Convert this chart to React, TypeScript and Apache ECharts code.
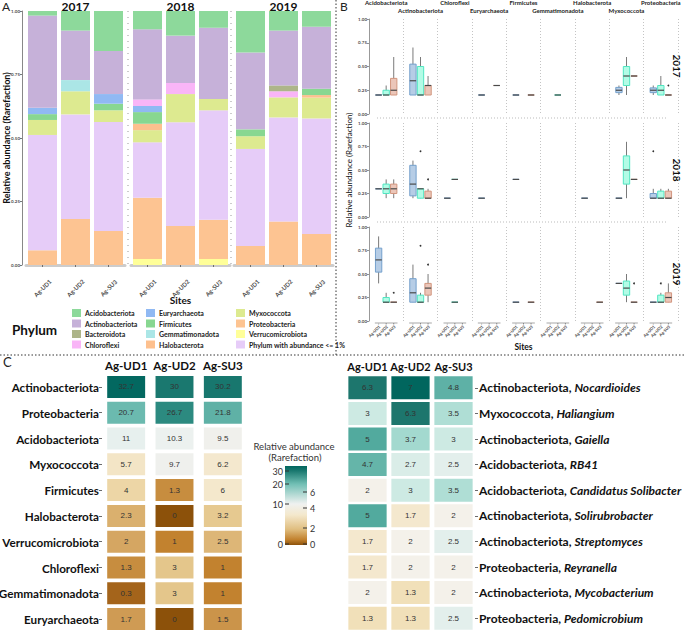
import React, { useEffect, useRef } from 'react';
import * as echarts from 'echarts';

// ---------------- DATA ----------------
const sites = ['Ag-UD1', 'Ag-UD2', 'Ag-SU3'];
const years = ['2017', '2018', '2019'];

// Panel A: relative abundance per bar, order [2017 UD1, UD2, SU3, 2018 UD1, UD2, SU3, 2019 UD1, UD2, SU3]
const verrucomicrobiotaA = [0, 0, 0, 0.024, 0, 0.024, 0, 0, 0];
const proteobacteriaA = [0.058, 0.181, 0.134, 0.241, 0.154, 0.154, 0.075, 0.171, 0.122];
const lowAbundanceA = [0.454, 0.412, 0.429, 0.218, 0.408, 0.431, 0.382, 0.41, 0.455];
const myxococcotaA = [0.059, 0.091, 0.046, 0.048, 0.111, 0.045, 0.05, 0.079, 0.082];
const halobacterotaA = [0, 0, 0, 0.025, 0, 0, 0, 0, 0.01];
const gemmatimonadotaA = [0, 0.044, 0, 0, 0, 0, 0, 0, 0];
const firmicutesA = [0.023, 0, 0.026, 0.046, 0, 0, 0.027, 0, 0.025];
const euryarchaeotaA = [0.025, 0, 0.038, 0.024, 0, 0, 0, 0, 0];
const chloroflexiA = [0, 0, 0, 0.026, 0.044, 0, 0, 0.024, 0];
const bacteroidotaA = [0, 0, 0, 0, 0, 0, 0, 0.023, 0];
const actinobacteriotaA = [0.363, 0.195, 0.17, 0.276, 0.186, 0.28, 0.303, 0.216, 0.244];
const acidobacteriotaA = [0.018, 0.077, 0.157, 0.072, 0.097, 0.066, 0.163, 0.077, 0.062];

// Panel B: boxplots [phylumIndex, siteIndex, min, q1, median, q3, max]
const bPhyla = ['Acidobacteriota', 'Actinobacteriota', 'Chloroflexi', 'Euryarchaeota', 'Firmicutes', 'Gemmatimonadota', 'Halobacterota', 'Myxococcota', 'Proteobacteria'];
const box2017 = [
  [0, 0, 0.2, 0.2, 0.2, 0.2, 0.2], [0, 1, 0.2, 0.2, 0.2, 0.25, 0.3], [0, 2, 0.2, 0.2, 0.25, 0.375, 0.6],
  [1, 0, 0.2, 0.2, 0.35, 0.525, 0.7], [1, 1, 0.2, 0.2, 0.2, 0.5, 0.6], [1, 2, 0.2, 0.2, 0.3, 0.3, 0.4],
  [3, 0, 0.2, 0.2, 0.2, 0.2, 0.2], [3, 2, 0.3, 0.3, 0.3, 0.3, 0.3],
  [4, 0, 0.2, 0.2, 0.2, 0.2, 0.2], [4, 2, 0.2, 0.2, 0.2, 0.2, 0.2],
  [5, 1, 0.2, 0.2, 0.2, 0.2, 0.2],
  [7, 0, 0.2, 0.225, 0.25, 0.28, 0.3], [7, 1, 0.2, 0.3, 0.4, 0.5, 0.6], [7, 2, 0.4, 0.4, 0.4, 0.4, 0.4],
  [8, 0, 0.2, 0.225, 0.25, 0.275, 0.3], [8, 1, 0.2, 0.2, 0.25, 0.3, 0.4], [8, 2, 0.2, 0.2, 0.2, 0.2, 0.2],
];
const box2018 = [
  [0, 0, 0.3, 0.3, 0.3, 0.3, 0.3], [0, 1, 0.2, 0.25, 0.3, 0.35, 0.4], [0, 2, 0.2, 0.25, 0.3, 0.35, 0.4],
  [1, 0, 0.2, 0.225, 0.35, 0.55, 0.6], [1, 1, 0.2, 0.2, 0.3, 0.3, 0.3], [1, 2, 0.2, 0.2, 0.2, 0.275, 0.3],
  [2, 0, 0.2, 0.2, 0.2, 0.2, 0.2], [2, 1, 0.4, 0.4, 0.4, 0.4, 0.4],
  [3, 0, 0.2, 0.2, 0.2, 0.2, 0.2],
  [4, 0, 0.4, 0.4, 0.4, 0.4, 0.4],
  [6, 0, 0.2, 0.2, 0.2, 0.2, 0.2],
  [7, 0, 0.2, 0.2, 0.2, 0.2, 0.2], [7, 1, 0.2, 0.35, 0.5, 0.65, 0.8], [7, 2, 0.4, 0.4, 0.4, 0.4, 0.4],
  [8, 0, 0.2, 0.2, 0.2, 0.25, 0.3], [8, 1, 0.2, 0.2, 0.2, 0.275, 0.3], [8, 2, 0.2, 0.2, 0.2, 0.275, 0.3],
];
const box2019 = [
  [0, 0, 0.4, 0.52, 0.65, 0.775, 0.9], [0, 1, 0.2, 0.2, 0.2, 0.25, 0.3], [0, 2, 0.2, 0.2, 0.2, 0.2, 0.2],
  [1, 0, 0.2, 0.2, 0.3, 0.45, 0.6], [1, 1, 0.2, 0.2, 0.2, 0.275, 0.3], [1, 2, 0.2, 0.275, 0.35, 0.4, 0.5],
  [2, 1, 0.2, 0.2, 0.2, 0.2, 0.2],
  [4, 0, 0.2, 0.2, 0.2, 0.2, 0.2], [4, 2, 0.2, 0.2, 0.2, 0.2, 0.2],
  [6, 2, 0.2, 0.2, 0.2, 0.2, 0.2],
  [7, 0, 0.4, 0.4, 0.4, 0.4, 0.4], [7, 1, 0.2, 0.275, 0.35, 0.425, 0.5], [7, 2, 0.2, 0.2, 0.2, 0.2, 0.2],
  [8, 0, 0.2, 0.2, 0.2, 0.2, 0.2], [8, 1, 0.2, 0.2, 0.2, 0.275, 0.3], [8, 2, 0.2, 0.2, 0.25, 0.3, 0.4],
];
// outliers [phylumIndex, siteIndex, value]
const out2017 = [[8, 2, 0.3]];
const out2018 = [[1, 1, 0.7], [1, 2, 0.4], [8, 0, 0.7]];
const out2019 = [[0, 2, 0.3], [1, 1, 0.8], [1, 2, 0.6], [7, 2, 0.4], [8, 1, 0.4]];

// Panel C left heatmap (phyla)
const phylumRows = ['Actinobacteriota', 'Proteobacteria', 'Acidobacteriota', 'Myxococcota', 'Firmicutes', 'Halobacterota', 'Verrucomicrobiota', 'Chloroflexi', 'Gemmatimonadota', 'Euryarchaeota'];
const phylumUD1 = [32.7, 20.7, 11, 5.7, 4, 2.3, 2, 1.3, 0.3, 1.7];
const phylumUD2 = [30, 26.7, 10.3, 9.7, 1.3, 0, 1, 3, 3, 0];
const phylumSU3 = [30.2, 21.8, 9.5, 6.2, 6, 3.2, 2.5, 1, 1, 1.5];

// Panel C right heatmap (genera)
const genusRows = ['Nocardioides', 'Haliangium', 'Gaiella', 'RB41', 'Candidatus Solibacter', 'Solirubrobacter', 'Streptomyces', 'Reyranella', 'Mycobacterium', 'Pedomicrobium'];
const genusPhyla = ['Actinobacteriota', 'Myxococcota', 'Actinobacteriota', 'Acidobacteriota', 'Acidobacteriota', 'Actinobacteriota', 'Actinobacteriota', 'Proteobacteria', 'Actinobacteriota', 'Proteobacteria'];
const genusUD1 = [6.3, 3, 5, 4.7, 2, 5, 1.7, 1.7, 2, 1.3];
const genusUD2 = [7, 6.3, 3.7, 2.7, 3, 1.7, 2, 2, 1.3, 1.3];
const genusSU3 = [4.8, 3.5, 3, 2.5, 3.5, 2, 2.5, 2, 2, 2.5];

const cbLeftTicks = [0, 10, 20, 30];
const cbRightTicks = [0, 2, 4, 6];

// ---------------- STYLE ----------------
const FONT = 'Lato';
const stackA = [
  { name: 'Verrucomicrobiota', values: verrucomicrobiotaA, color: '#FFFF99' },
  { name: 'Proteobacteria', values: proteobacteriaA, color: '#FDC492' },
  { name: 'Phylum with abundance <= 1%', values: lowAbundanceA, color: '#E6CCF8' },
  { name: 'Myxococcota', values: myxococcotaA, color: '#DDEA90' },
  { name: 'Halobacterota', values: halobacterotaA, color: '#FDC08E' },
  { name: 'Gemmatimonadota', values: gemmatimonadotaA, color: '#ABE6E6' },
  { name: 'Firmicutes', values: firmicutesA, color: '#88D791' },
  { name: 'Euryarchaeota', values: euryarchaeotaA, color: '#90B9F3' },
  { name: 'Chloroflexi', values: chloroflexiA, color: '#F9B5F7' },
  { name: 'Bacteroidota', values: bacteroidotaA, color: '#ADB589' },
  { name: 'Actinobacteriota', values: actinobacteriotaA, color: '#C6B1D9' },
  { name: 'Acidobacteriota', values: acidobacteriotaA, color: '#8DD99B' },
];
const legendCols = [
  ['Acidobacteriota', 'Actinobacteriota', 'Bacteroidota', 'Chloroflexi'],
  ['Euryarchaeota', 'Firmicutes', 'Gemmatimonadota', 'Halobacterota'],
  ['Myxococcota', 'Proteobacteria', 'Verrucomicrobiota', 'Phylum with abundance <= 1%'],
];
const boxFill = ['#B6CDE6', '#B2FCE6', '#EBC6B9'];
const boxStroke = ['#74A0CC', '#52E6C2', '#D2967F'];
const SITE_OFF = 0.22;
const BOX_W = 0.185;

function hexToRgb(h: string) {
  const n = parseInt(h.slice(1), 16);
  return [(n >> 16) & 255, (n >> 8) & 255, n & 255];
}
function makeScale(stops: [number, string][]) {
  return (v: number) => {
    if (v <= stops[0][0]) return stops[0][1];
    for (let i = 1; i < stops.length; i++) {
      if (v <= stops[i][0]) {
        const [a, ca] = stops[i - 1];
        const [b, cb] = stops[i];
        const t = (v - a) / (b - a);
        const A = hexToRgb(ca), B = hexToRgb(cb);
        return `rgb(${A.map((x, k) => Math.round(x + (B[k] - x) * t)).join(',')})`;
      }
    }
    return stops[stops.length - 1][1];
  };
}
const leftColor = makeScale([
  [0, '#8C510A'], [0.3, '#A4641B'], [1, '#C2822F'], [1.5, '#CB944A'], [2, '#D5A662'], [3, '#E4C68B'],
  [4, '#EDD6A6'], [6, '#F4E8CC'], [10, '#EFF1F0'], [12, '#DEEEEB'], [20.7, '#6BBAAF'], [26.7, '#2C8A80'],
  [30, '#1A786F'], [33, '#01665E'],
]);
const rightColor = makeScale([
  [0, '#8C510A'], [1, '#E0C283'], [1.3, '#F1E0B9'], [1.7, '#F4E8CE'], [2, '#F4F1EA'], [2.5, '#E3EFEC'],
  [3, '#CDEAE3'], [3.7, '#A3D9CF'], [5, '#52AA9E'], [6.3, '#1D766D'], [7, '#01665E'],
]);

function renderBox(params: any, api: any) {
  const cat = api.value(0);
  const site = api.value(1);
  const band = api.size([1, 0])[0];
  const c = api.coord([cat, 0])[0] + (site - 1) * band * SITE_OFF;
  const w = band * BOX_W;
  const y = (v: number) => api.coord([cat, v])[1];
  const yMin = y(api.value(2)), yQ1 = y(api.value(3)), yMed = y(api.value(4)), yQ3 = y(api.value(5)), yMax = y(api.value(6));
  return {
    type: 'group',
    children: [
      { type: 'line', shape: { x1: c, y1: yMin, x2: c, y2: yMax }, style: { stroke: '#7a7a7a', lineWidth: 1 } },
      { type: 'rect', shape: { x: c - w / 2, y: yQ3, width: w, height: yQ1 - yQ3 }, style: { fill: boxFill[site], stroke: boxStroke[site], lineWidth: 1 } },
      { type: 'line', shape: { x1: c - w / 2, y1: yMed, x2: c + w / 2, y2: yMed }, style: { stroke: '#4a4a4a', lineWidth: 1.2 } },
    ],
  };
}
function renderOutlier(params: any, api: any) {
  const cat = api.value(0);
  const site = api.value(1);
  const band = api.size([1, 0])[0];
  const p = api.coord([cat, api.value(2)]);
  return { type: 'circle', shape: { cx: p[0] + (site - 1) * band * SITE_OFF, cy: p[1], r: 0.9 }, style: { fill: '#333' } };
}
function renderSiteLabel(params: any, api: any) {
  const cat = api.value(0);
  const site = api.value(1);
  const band = api.size([1, 0])[0];
  const p = api.coord([cat, 0]);
  const x = p[0] + (site - 1) * band * SITE_OFF;
  const children: any[] = [
    { type: 'line', shape: { x1: x, y1: p[1] + 2, x2: x, y2: p[1] + 3.5 }, style: { stroke: '#555', lineWidth: 0.6 } },
    { type: 'text', x: x + 1, y: p[1] + 5, rotation: Math.PI / 4, style: { text: sites[site], fontSize: 4, fill: '#444', align: 'right', verticalAlign: 'middle', fontFamily: FONT, fontWeight: 'bold' } },
  ];
  if (site === 1) {
    children.unshift({ type: 'line', shape: { x1: p[0] - band * 0.33, y1: p[1] + 2, x2: p[0] + band * 0.33, y2: p[1] + 2 }, style: { stroke: '#c4c4c4', lineWidth: 1.5 } });
  }
  return { type: 'group', children };
}
function makeHeatRender(fw: number, fh: number, colorFn: (v: number) => string) {
  return (params: any, api: any) => {
    const v = api.value(2);
    const p = api.coord([api.value(0), api.value(1)]);
    const s = api.size([1, 1]);
    const w = s[0] * fw, h = s[1] * fh;
    return {
      type: 'group',
      children: [
        { type: 'rect', shape: { x: p[0] - w / 2, y: p[1] - h / 2, width: w, height: h }, style: { fill: colorFn(v) } },
        { type: 'text', x: p[0], y: p[1], style: { text: String(v), fill: '#333', fontSize: 8, fontFamily: 'Liberation Sans', align: 'center', verticalAlign: 'middle' } },
      ],
    };
  };
}

function dot(x1: number, y1: number, x2: number, y2: number, stroke = '#333', dash = [1.5, 2]) {
  return { type: 'line', silent: true, shape: { x1, y1, x2, y2 }, style: { stroke, lineWidth: 1, lineDash: dash } };
}
function txt(text: string, x: number, y: number, fontSize: number, extra: any = {}, styleExtra: any = {}) {
  return {
    type: 'text', silent: true, x, y, ...extra,
    style: { text, fontSize, fontFamily: FONT, fill: '#111', align: 'center', verticalAlign: 'middle', ...styleExtra },
  };
}

function buildOption() {
  const grids = [
    { left: 26, top: 11, width: 99, height: 254 },
    { left: 131, top: 11, width: 99, height: 254 },
    { left: 234, top: 11, width: 99, height: 254 },
    { left: 369, top: 19, width: 309, height: 95 },
    { left: 369, top: 123, width: 309, height: 94 },
    { left: 369, top: 227, width: 309, height: 94 },
    { left: 102, top: 374, width: 145, height: 258 },
    { left: 346, top: 375, width: 129, height: 256 },
  ].map((g) => ({ ...g, containLabel: false, outerBoundsMode: 'none' }));

  const tickFmt = (v: number) => v.toFixed(2);

  const xAxis: any[] = [];
  const yAxis: any[] = [];
  years.forEach((yr, i) => {
    xAxis.push({
      type: 'category', gridIndex: i, data: sites, offset: 6,
      axisLine: { show: true, lineStyle: { color: '#cccccc', width: 3 } },
      axisTick: { show: true, alignWithLabel: true, length: 2, lineStyle: { color: '#555', width: 0.8 } },
      axisLabel: { interval: 0, rotate: 45, align: 'center', verticalAlign: 'middle', margin: 17, fontSize: 6, fontWeight: 'bold', color: '#4d4d4d', fontFamily: FONT },
      splitLine: { show: false },
      name: i === 1 ? 'Sites' : '', nameLocation: 'middle', nameGap: 24, nameMoveOverlap: false,
      nameTextStyle: { fontSize: 10, fontWeight: 'bold', color: '#111', fontFamily: FONT },
    });
    yAxis.push({
      type: 'value', gridIndex: i, min: 0, max: 1, interval: 0.25, show: i === 0, offset: 4,
      axisLine: { show: true, lineStyle: { color: '#888', width: 1 } },
      axisTick: { show: true, length: 2, lineStyle: { color: '#555', width: 0.8 } },
      axisLabel: { fontSize: 4.5, fontWeight: 'bold', color: '#4d4d4d', margin: 2, formatter: tickFmt, fontFamily: FONT },
      splitLine: { show: false },
      name: i === 0 ? 'Relative abundance (Rarefaction)' : '', nameLocation: 'middle', nameGap: 11, nameMoveOverlap: false,
      nameTextStyle: { fontSize: 9, fontWeight: 'bold', color: '#111', fontFamily: FONT },
    });
  });
  [0, 1, 2].forEach((r) => {
    xAxis.push({
      type: 'category', gridIndex: 3 + r, data: bPhyla, position: r === 0 ? 'top' : 'bottom',
      axisLine: { show: false }, axisTick: { show: false },
      axisLabel: r === 0
        ? { show: true, interval: 0, fontSize: 6, fontWeight: 'bold', color: '#222', margin: 5, lineHeight: 7.5, fontFamily: FONT,
            formatter: (v: string, i: number) => (i % 2 === 0 ? v + '\n ' : v) }
        : { show: false },
      splitLine: { show: true, interval: 0, lineStyle: { color: '#b5b5b5', type: [1, 2], width: 0.8 } },
      name: r === 2 ? 'Sites' : '', nameLocation: 'middle', nameGap: 21, nameMoveOverlap: false,
      nameTextStyle: { fontSize: 8.5, fontWeight: 'bold', color: '#111', fontFamily: FONT },
    });
    yAxis.push({
      type: 'value', gridIndex: 3 + r, min: 0, max: 1, interval: 0.25,
      axisLine: { show: true, lineStyle: { color: '#999', width: 1 } },
      axisTick: { show: true, length: 2, lineStyle: { color: '#777', width: 0.8 } },
      axisLabel: { fontSize: 4.5, fontWeight: 'bold', color: '#4d4d4d', margin: 2, formatter: tickFmt, fontFamily: FONT },
      splitLine: { show: false },
      name: r === 1 ? 'Relative abundance (Rarefaction)' : '', nameLocation: 'middle', nameGap: 16, nameMoveOverlap: false,
      nameTextStyle: { fontSize: 8, color: '#111', fontFamily: FONT },
    });
  });
  // heatmaps
  xAxis.push({
    type: 'category', gridIndex: 6, data: sites, position: 'top',
    axisLine: { show: false }, axisTick: { show: false }, splitLine: { show: false },
    axisLabel: { interval: 0, fontSize: 11.5, fontWeight: 'bold', color: '#111', margin: 3, fontFamily: FONT },
  });
  yAxis.push({
    type: 'category', gridIndex: 6, data: phylumRows, inverse: true,
    axisLine: { show: false }, splitLine: { show: false },
    axisTick: { show: true, alignWithLabel: true, length: 3, lineStyle: { color: '#444', width: 0.8 } },
    axisLabel: { interval: 0, fontSize: 11.7, fontWeight: 'bold', color: '#111', margin: 3, fontFamily: FONT },
  });
  xAxis.push({
    type: 'category', gridIndex: 7, data: sites, position: 'top',
    axisLine: { show: false }, axisTick: { show: false }, splitLine: { show: false },
    axisLabel: { interval: 0, fontSize: 11, fontWeight: 'bold', color: '#111', margin: 3, fontFamily: FONT },
  });
  yAxis.push({
    type: 'category', gridIndex: 7, data: genusRows, inverse: true, position: 'right',
    axisLine: { show: false }, splitLine: { show: false },
    axisTick: { show: true, alignWithLabel: true, length: 3, lineStyle: { color: '#444', width: 0.8 } },
    axisLabel: {
      interval: 0, margin: 4,
      formatter: (v: string, i: number) => `{p|${genusPhyla[i]}, }{g|${v}}`,
      rich: {
        p: { fontSize: 12, fontWeight: 'bold', color: '#111', fontFamily: FONT },
        g: { fontSize: 12, fontWeight: 'bold', fontStyle: 'italic', color: '#111', fontFamily: FONT },
      },
    },
  });

  const series: any[] = [];
  years.forEach((yr, yi) => {
    stackA.forEach((p) => {
      series.push({
        type: 'bar', name: p.name, xAxisIndex: yi, yAxisIndex: yi, stack: 'A' + yi, barWidth: 29,
        data: p.values.slice(yi * 3, yi * 3 + 3), itemStyle: { color: p.color },
        emphasis: { disabled: true }, silent: true,
      });
    });
  });
  [box2017, box2018, box2019].forEach((rows, r) => {
    series.push({
      type: 'custom', name: 'box' + years[r], xAxisIndex: 3 + r, yAxisIndex: 3 + r,
      data: rows, encode: { x: 0, y: [2, 3, 4, 5, 6] }, renderItem: renderBox, silent: true,
    });
  });
  [out2017, out2018, out2019].forEach((rows, r) => {
    series.push({
      type: 'custom', name: 'out' + years[r], xAxisIndex: 3 + r, yAxisIndex: 3 + r,
      data: rows, encode: { x: 0, y: 2 }, renderItem: renderOutlier, silent: true,
    });
  });
  series.push({
    type: 'custom', name: 'siteLabels', xAxisIndex: 5, yAxisIndex: 5, clip: false, silent: true,
    data: bPhyla.flatMap((_, c) => sites.map((__, s) => [c, s, 0])), encode: { x: 0, y: 2 },
    renderItem: renderSiteLabel,
  });
  series.push({
    type: 'custom', name: 'heatPhylum', xAxisIndex: 6, yAxisIndex: 6, silent: true,
    data: phylumRows.flatMap((_, r) => [[0, r, phylumUD1[r]], [1, r, phylumUD2[r]], [2, r, phylumSU3[r]]]),
    encode: { x: 0, y: 1 }, renderItem: makeHeatRender(0.785, 0.853, leftColor),
  });
  series.push({
    type: 'custom', name: 'heatGenus', xAxisIndex: 7, yAxisIndex: 7, silent: true,
    data: genusRows.flatMap((_, r) => [[0, r, genusUD1[r]], [1, r, genusUD2[r]], [2, r, genusSU3[r]]]),
    encode: { x: 0, y: 1 }, renderItem: makeHeatRender(0.89, 0.9, rightColor),
  });

  const legend = legendCols.map((names, i) => ({
    data: names, orient: 'vertical', left: [72, 146, 236][i], top: 309, padding: 0,
    icon: 'rect', itemWidth: 9, itemHeight: 8, itemGap: 2.5, selectedMode: false,
    textStyle: { fontSize: 7, fontWeight: 'bold', color: '#222', fontFamily: FONT, padding: [0, 0, 0, -1] },
  }));

  // colourbar (legend for panel C)
  const cbTop = 466, cbBottom = 545, cbX = 285, cbW = 22;
  const leftPos: Record<number, number> = { 0: 544, 10: 504, 20: 484, 30: 471 };
  const rightPos: Record<number, number> = { 0: 544, 2: 528, 4: 508, 6: 492 };
  const cbEls: any[] = [
    {
      type: 'rect', silent: true, shape: { x: cbX, y: cbTop, width: cbW, height: cbBottom - cbTop },
      style: {
        fill: {
          type: 'linear', x: 0, y: 0, x2: 0, y2: 1,
          colorStops: [
            { offset: 0, color: '#01665E' }, { offset: 0.06, color: '#1A786F' }, { offset: 0.23, color: '#72C0B5' },
            { offset: 0.48, color: '#EFF1F0' }, { offset: 0.62, color: '#F4E8CC' }, { offset: 0.8, color: '#E0BE80' },
            { offset: 0.93, color: '#C2822F' }, { offset: 1, color: '#8C510A' },
          ],
        },
      },
    },
  ];
  cbLeftTicks.forEach((t) => {
    const y = leftPos[t];
    cbEls.push({ type: 'line', silent: true, shape: { x1: cbX, y1: y, x2: cbX + 4, y2: y }, style: { stroke: '#333', lineWidth: 1 } });
    cbEls.push(txt(String(t), cbX - 2, y, 9, {}, { align: 'right', fill: '#333' }));
  });
  cbRightTicks.forEach((t) => {
    const y = rightPos[t];
    cbEls.push({ type: 'line', silent: true, shape: { x1: cbX + cbW - 4, y1: y, x2: cbX + cbW, y2: y }, style: { stroke: '#333', lineWidth: 1 } });
    cbEls.push(txt(String(t), cbX + cbW + 3, y, 9, {}, { align: 'left', fill: '#333' }));
  });

  const graphic = [
    dot(336, 0, 336, 355),
    dot(0, 355, 685, 355),
    dot(128, 11, 128, 268, '#999', [1, 5]),
    dot(231, 11, 231, 268, '#999', [1, 5]),
    dot(377, 118, 668, 118, '#bbb', [1, 2]),
    dot(377, 222, 668, 222, '#bbb', [1, 2]),
    txt('A', 2, 6, 12, {}, { align: 'left', fill: '#222' }),
    txt('B', 340, 6, 12, {}, { align: 'left', fill: '#222' }),
    txt('C', 3, 362, 13, {}, { align: 'left', fill: '#222' }),
    txt('2017', 75.5, 6, 12, {}, { fontWeight: 'bold' }),
    txt('2018', 180.5, 6, 12, {}, { fontWeight: 'bold' }),
    txt('2019', 283.5, 6, 12, {}, { fontWeight: 'bold' }),
    txt('Phylum', 12, 330, 13.5, {}, { align: 'left', fontWeight: 'bold' }),
    txt('2017', 677, 66, 10, { rotation: -Math.PI / 2 }, { fontWeight: 'bold' }),
    txt('2018', 677, 170, 10, { rotation: -Math.PI / 2 }, { fontWeight: 'bold' }),
    txt('2019', 677, 274, 10, { rotation: -Math.PI / 2 }, { fontWeight: 'bold' }),
    txt('Relative abundance', 294, 446, 9.5, {}, { fill: '#333' }),
    txt('(Rarefaction)', 295, 457, 9.5, {}, { fill: '#333' }),
    ...cbEls,
  ];

  return {
    animation: false,
    backgroundColor: '#ffffff',
    textStyle: { fontFamily: FONT },
    grid: grids,
    xAxis,
    yAxis,
    legend,
    series,
    graphic: { elements: graphic },
  };
}

export default function App() {
  const ref = useRef<HTMLDivElement>(null);
  useEffect(() => {
    const chart = echarts.init(ref.current as HTMLDivElement, null, { renderer: 'svg' });
    chart.setOption(buildOption() as any);
    return () => chart.dispose();
  }, []);
  return (
    <div
      ref={ref}
      style={{ position: 'absolute', left: 0, top: 0, width: 685, height: 631, background: '#fff' }}
    />
  );
}
